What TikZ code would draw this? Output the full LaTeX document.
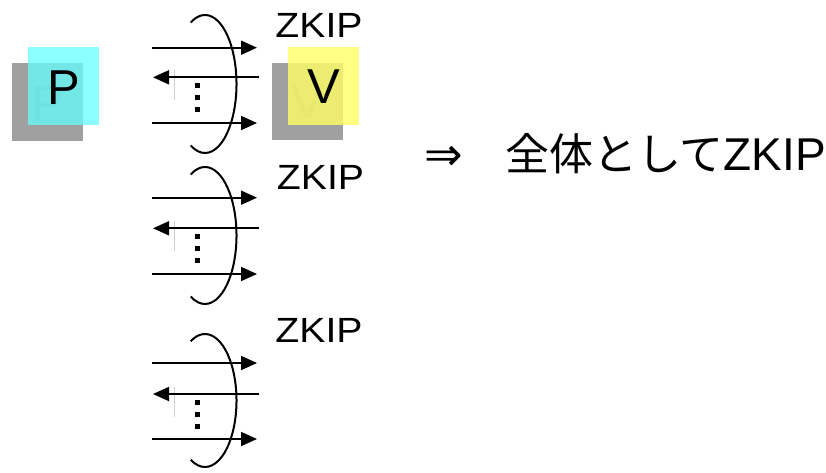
\documentclass[tikz,border=0pt]{standalone}
\usepackage{fontspec}
\setmainfont{Liberation Sans}
\newfontfamily\cjk{Noto Sans CJK JP}
\newfontfamily\dvs{DejaVu Sans}
\newfontfamily\widesans[FakeStretch=1.12]{Liberation Sans}
\usetikzlibrary{arrows.meta}
\definecolor{shadowgray}{RGB}{160,160,160}
\definecolor{shadowtext}{RGB}{140,140,140}
\definecolor{cyanbox}{RGB}{100,255,255}
\definecolor{yellowbox}{RGB}{255,255,100}
\definecolor{faintline}{RGB}{205,205,205}
\tikzset{
  bigletter/.style={font=\fontsize{49}{49}\selectfont, inner sep=0pt, anchor=base},
  zlabel/.style={font=\widesans\fontsize{35}{35}\selectfont, inner sep=0pt, anchor=base},
  msg/.style={arrows={-Triangle[length=16pt,width=14pt]}, line width=1.8pt},
  ring/.style={line width=2pt},
}
\begin{document}
\begin{tikzpicture}[x=1pt,y=-1pt]
\useasboundingbox (0,0) rectangle (826,472);
% P box
\fill[shadowgray] (12,63) rectangle (83,141);
\node[bigletter, text=shadowtext] (pshadow) at (47.5,120) {P};
\fill[cyanbox, opacity=0.74] (28,47) rectangle (99,125);
\node[bigletter] (P) at (63.5,104) {P};
% V box
\fill[shadowgray] (272,63) rectangle (343,140);
\node[bigletter, text=shadowtext] (vshadow) at (308,119) {V};
\fill[yellowbox, opacity=0.8] (288,47) rectangle (359,125);
\node[bigletter] (V) at (324,103) {V};
% groups
\foreach \g/\ta/\mi/\bo/\ec/\eb/\zx/\zy in {1/47.7/77.3/123/84/69/319/37, 2/197.7/228.3/274/235.5/68.5/320.5/189, 3/363/394/439/400.5/66.5/319/342}{
  \coordinate (tl\g) at (152,\ta);
  \coordinate (tr\g) at (257,\ta);
  \coordinate (ml\g) at (153,\mi);
  \coordinate (mr\g) at (259,\mi);
  \coordinate (bl\g) at (152,\bo);
  \coordinate (br\g) at (257,\bo);
  \coordinate (ec\g) at (205,\ec);
  \coordinate (fa\g) at (174,\mi-7);
  \coordinate (fb\g) at (174,\mi+23);
  \draw[faintline, line width=0.8pt] (fa\g) -- (fb\g);
  \draw[msg] (tl\g) -- (tr\g);
  \draw[msg] (mr\g) -- (ml\g);
  \draw[msg] (bl\g) -- (br\g);
  \draw[ring] (ec\g) ++(-117:31.5 and \eb) arc[start angle=-117, end angle=117, x radius=31.5, y radius=\eb];
  \foreach \d in {8.5,20.5,32}{
    \fill (194.5,\mi+\d-2.5) rectangle (199.5,\mi+\d+2.5);
  }
  \node[zlabel] (z\g) at (\zx,\zy) {ZKIP};
}
% conclusion
\node[font=\dvs\fontsize{46}{46}\selectfont, inner sep=0pt, anchor=base west] (imp) at (424,170) {⇒};
\node[inner sep=0pt, anchor=base west] (concl) at (505,170) {{\cjk\fontsize{44}{44}\selectfont 全体として}{\fontsize{46}{46}\selectfont ZKIP}};
\end{tikzpicture}
\end{document}
